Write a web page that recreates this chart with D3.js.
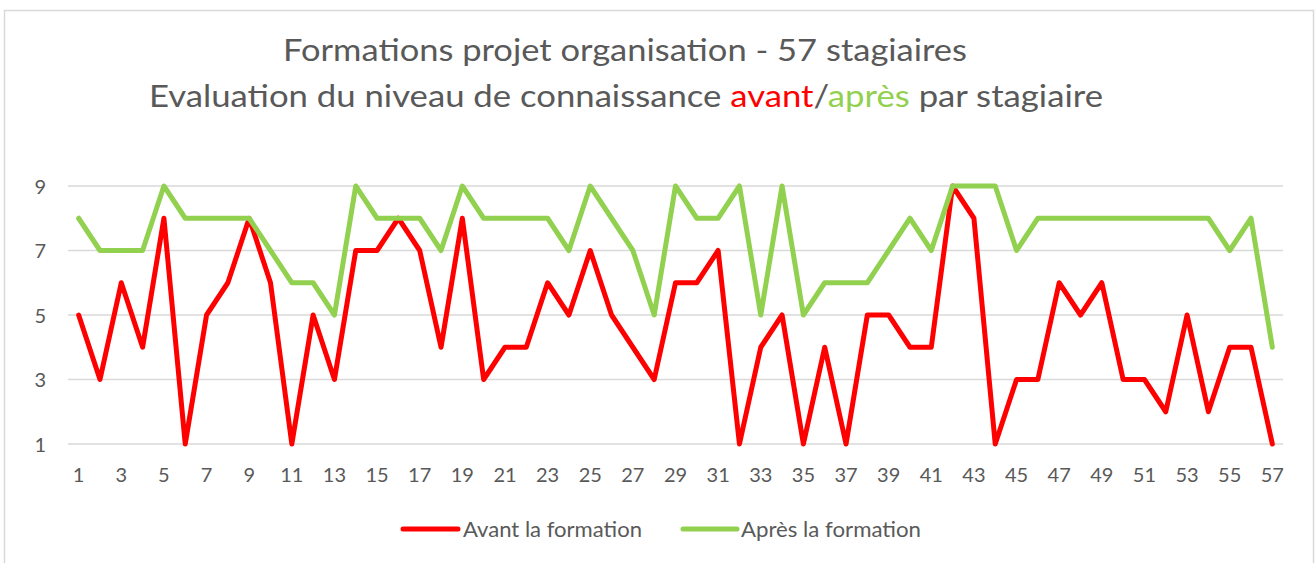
<!DOCTYPE html>
<html>
<head>
<meta charset="utf-8">
<script src="https://cdn.jsdelivr.net/npm/d3@7"></script>
<style>
  html, body { margin: 0; padding: 0; background: #ffffff; }
  svg { display: block; }
  text { font-family: Lato, "Open Sans", sans-serif; }
</style>
</head>
<body>
<svg id="chart" width="1315" height="563"></svg>
<script>
// ---- Data ----
const stagiaires = d3.range(1, 58); // 1..57
const avant = [5,3,6,4,8,1,5,6,8,6,1,5,3,7,7,8,7,4,8,3,4,4,6,5,7,5,4,3,6,6,7,1,4,5,1,4,1,5,5,4,4,9,8,1,3,3,6,5,6,3,3,2,5,2,4,4,1];
const apres = [8,7,7,7,9,8,8,8,8,7,6,6,5,9,8,8,8,7,9,8,8,8,8,7,9,8,7,5,9,8,8,9,5,9,5,6,6,6,7,8,7,9,9,9,7,8,8,8,8,8,8,8,8,8,7,8,4];
const yTicks = [1,3,5,7,9];
const xTickLabels = stagiaires.filter(d => d % 2 === 1);
const seriesNames = ["Avant la formation", "Après la formation"];
const titleLine1 = "Formations projet organisation - 57 stagiaires";
const titleLine2Parts = [
  {t: "Evaluation du niveau de connaissance ", c: "#595959"},
  {t: "avant", c: "#FF0000"},
  {t: "/", c: "#595959"},
  {t: "après", c: "#92D050"},
  {t: " par stagiaire", c: "#595959"}
];

// ---- Layout ----
const svg = d3.select("#chart");
const colors = ["#FF0000", "#92D050"];
const plot = {left: 68, right: 1283, top: 186, bottom: 444};
const textColor = "#595959";

// chart border
svg.append("rect")
  .attr("x", 4.5).attr("y", 10.5)
  .attr("width", 1309).attr("height", 570)
  .attr("fill", "#fff").attr("stroke", "#D9D9D9").attr("stroke-width", 1.5);

const x = d3.scaleBand().domain(stagiaires).range([plot.left, plot.right]);
const y = d3.scaleLinear().domain([1, 9]).range([plot.bottom, plot.top]);
const cx = d => x(d) + x.bandwidth() / 2;

// gridlines
svg.append("g").selectAll("line").data(yTicks).join("line")
  .attr("x1", plot.left).attr("x2", plot.right)
  .attr("y1", d => y(d)).attr("y2", d => y(d))
  .attr("stroke", "#D9D9D9").attr("stroke-width", 1.3);

// y axis labels
const yAxis = d3.axisLeft(y).tickValues(yTicks).tickSize(0).tickPadding(0).tickFormat(d3.format("d"));
const gy = svg.append("g").attr("transform", "translate(46,0)").call(yAxis);
gy.select(".domain").remove();
gy.selectAll("text").attr("fill", textColor).style("font-size", "20px")
  .style("font-family", "Lato, sans-serif").attr("dy", "0.35em");

// x axis labels
const xAxis = d3.axisBottom(x).tickValues(xTickLabels).tickSize(0).tickPadding(0);
const gx = svg.append("g").attr("transform", `translate(0,${plot.bottom + 31})`).call(xAxis);
gx.select(".domain").remove();
gx.selectAll("text").attr("fill", textColor).style("font-size", "20px")
  .style("font-family", "Lato, sans-serif").attr("dy", "0.35em");

// lines
const line = d3.line().x((d, i) => cx(stagiaires[i])).y(d => y(d));
[avant, apres].forEach((s, k) => {
  svg.append("path").datum(s)
    .attr("d", line)
    .attr("fill", "none")
    .attr("stroke", colors[k])
    .attr("stroke-width", 5)
    .attr("stroke-linejoin", "round")
    .attr("stroke-linecap", "round");
});

// titles
const t1 = svg.append("text")
  .attr("x", 625).attr("y", 61)
  .attr("text-anchor", "middle")
  .attr("fill", textColor)
  .style("font-size", "31px")
  .text(titleLine1);
t1.attr("textLength", 684).attr("lengthAdjust", "spacingAndGlyphs");

const t2 = svg.append("text")
  .attr("x", 626).attr("y", 106.5)
  .attr("text-anchor", "middle")
  .attr("fill", textColor)
  .style("font-size", "31px");
titleLine2Parts.forEach(p => t2.append("tspan").attr("fill", p.c).text(p.t));
t2.attr("textLength", 954).attr("lengthAdjust", "spacingAndGlyphs");

// legend
const legend = [
  {x1: 403, x2: 458, tx: 463, w: 179},
  {x1: 683, x2: 737, tx: 741, w: 180}
];
legend.forEach((l, k) => {
  svg.append("line")
    .attr("x1", l.x1).attr("x2", l.x2)
    .attr("y1", 529).attr("y2", 529)
    .attr("stroke", colors[k]).attr("stroke-width", 5)
    .attr("stroke-linecap", "round");
  svg.append("text")
    .attr("x", l.tx).attr("y", 529).attr("dy", "0.35em")
    .attr("fill", textColor).style("font-size", "22px")
    .attr("textLength", l.w).attr("lengthAdjust", "spacingAndGlyphs")
    .text(seriesNames[k]);
});
</script>
</body>
</html>
